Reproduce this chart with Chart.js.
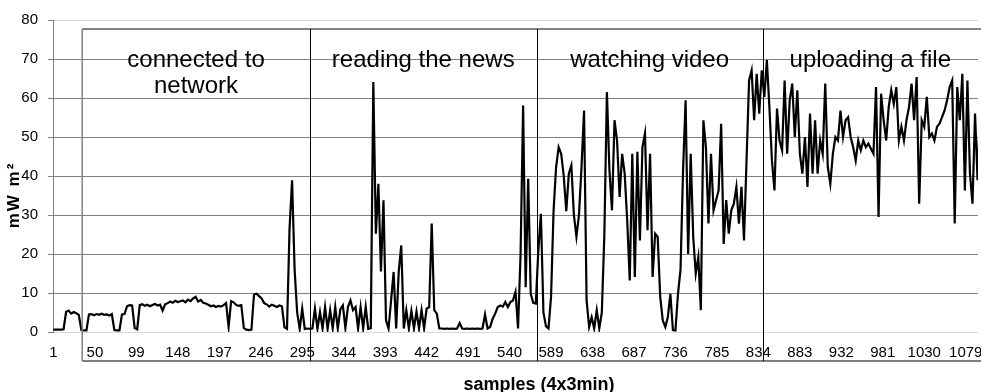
<!DOCTYPE html>
<html>
<head>
<meta charset="utf-8">
<script src="https://cdn.jsdelivr.net/npm/chart.js@4.4.0/dist/chart.umd.min.js"></script>
<style>
  html, body { margin: 0; padding: 0; background: #fff; }
</style>
</head>
<body>
<canvas id="powerChart" width="981" height="392"></canvas>
<script>
// power readings, one value every 3rd sample starting at sample 1
const firstSample = 1;
const sampleStep = 3;
const power = [
  0.6, 0.6, 0.6, 0.6, 0.7, 5.2, 5.5, 4.7, 5.1, 4.8,
  4.4, 0.5, 0.4, 0.4, 4.5, 4.6, 4.3, 4.6, 4.4, 4.7,
  4.4, 4.5, 4.2, 4.6, 0.5, 0.4, 0.4, 4.5, 4.6, 6.6,
  6.9, 6.8, 1.0, 0.7, 6.9, 7.1, 6.7, 7.0, 6.6, 6.9,
  7.2, 6.8, 7.0, 5.5, 7.1, 7.4, 7.8, 7.5, 8.0, 7.7,
  7.9, 8.1, 7.6, 8.3, 7.9, 8.6, 9.0, 7.8, 8.2, 7.5,
  7.3, 7.0, 6.6, 6.8, 6.4, 6.7, 6.5, 6.9, 7.4, 1.3,
  7.9, 7.6, 6.9, 6.7, 6.9, 1.0, 0.6, 0.5, 0.6, 9.6,
  9.8, 9.2, 8.6, 7.4, 7.1, 6.5, 7.0, 6.7, 6.4, 6.8,
  6.6, 1.2, 0.8, 26.5, 38.9, 16, 5, 0.8, 6, 0.8,
  0.9, 0.8, 0.9, 6.0, 0.8, 5.1, 0.9, 6.4, 0.8, 5.6,
  0.9, 6.4, 0.8, 5.8, 6.8, 1.0, 6.4, 8.1, 5.6, 6.4,
  0.9, 6.4, 0.9, 6.4, 0.8, 1.0, 64.1, 25.2, 38.0, 15.5,
  33.8, 3.0, 0.9, 8.1, 15.4, 0.9, 15.4, 22.2, 0.9, 5.6,
  0.9, 5.4, 0.9, 5.2, 0.9, 5.6, 0.9, 6.0, 6.4, 27.8,
  5.6, 4.7, 0.9, 0.9, 0.8, 0.9, 0.8, 0.9, 0.8, 0.9,
  2.3, 0.9, 0.8, 0.9, 0.8, 0.9, 0.8, 0.9, 0.8, 0.9,
  4.5, 0.9, 1.3, 3.4, 4.7, 6.4, 6.8, 6.5, 7.7, 6.4,
  7.7, 8.1, 10.3, 0.9, 20, 58.1, 11.5, 39.3, 9.8, 7.5,
  7.3, 21, 30.3, 5, 1.5, 0.9, 9.0, 31.2, 42.3, 47.4,
  45.7, 40, 31, 40.6, 42.7, 30, 24.4, 30, 42.3, 56.8,
  8.1, 1.3, 3.8, 0.9, 5.6, 0.9, 5, 25, 61.5, 41.5,
  31.2, 54.3, 49.1, 34.6, 45.7, 40.6, 28.6, 13.2, 45.7, 14.1,
  46.2, 23.5, 47.4, 50.9, 26.1, 45.7, 14.1, 25.2, 24.4, 9,
  3, 1.3, 3.8, 9.8, 0.5, 0.4, 9.8, 16, 41.5, 59.4,
  20, 45.7, 24.4, 15, 19.2, 5.6, 54.3, 47.4, 27.8, 45.7,
  31.2, 33.8, 36.3, 53.4, 22.6, 33.8, 25.2, 31.2, 32.9, 37.2,
  27.8, 37.2, 23.5, 44, 64.5, 67.1, 54.3, 66.2, 56, 67.1,
  60.3, 69.7, 57.7, 44, 36.3, 57.3, 49.1, 46.6, 64.5, 45.7,
  59.4, 63.7, 50, 62, 45.7, 40.6, 50, 37.2, 56, 40.6,
  54.3, 40.6, 49.1, 45.7, 63.7, 42.3, 38, 45.7, 50, 49.1,
  56.8, 50, 54.3, 55.1, 50, 47.4, 44, 49.1, 46.6, 49.1,
  47.4, 48.3, 47, 45.7, 62.8, 29.5, 61.1, 54.3, 49.1, 57.7,
  62, 58.5, 62.8, 49.1, 52.6, 49.1, 54.3, 57.7, 63.7, 54.3,
  65.4, 32.9, 54.3, 52.6, 60.3, 50, 50.9, 49.1, 52.6, 53.4,
  55.1, 56.8, 59.4, 62.8, 64.5, 27.8, 62.8, 54.3, 66.2, 36.3,
  64.5, 40.6, 32.9, 56, 38.9, 58.5
];

const totalSamples = 1093;
const xTickLabels = [1, 50, 99, 148, 197, 246, 295, 344, 393, 442, 491, 540,
  589, 638, 687, 736, 785, 834, 883, 932, 981, 1030, 1079];

// activity phases and the sample where each one starts
const phaseNames = [['connected to', 'network'], ['reading the news'], ['watching video'], ['uploading a file']];
const phaseStarts = [35, 304, 572, 839];

const FONT = "'Liberation Sans', Arial, sans-serif";

const points = power.map((v, i) => ({ x: firstSample + i * sampleStep, y: v }));

const phaseOverlay = {
  id: 'phaseOverlay',
  afterDatasetsDraw(chart) {
    const { ctx, chartArea, scales: { x } } = chart;
    const boxTop = chartArea.top + 9;
    const boxBottom = chartArea.bottom + 29;
    const boxLeft = x.getPixelForValue(phaseStarts[0]);
    const right = chart.width;

    ctx.save();
    ctx.lineWidth = 1.5;
    ctx.strokeStyle = '#595959';
    ctx.beginPath();
    ctx.moveTo(boxLeft, boxTop);
    ctx.lineTo(right, boxTop);
    ctx.stroke();

    ctx.strokeStyle = '#808080';
    ctx.beginPath();
    ctx.moveTo(boxLeft, boxTop);
    ctx.lineTo(boxLeft, boxBottom);
    ctx.stroke();
    ctx.lineWidth = 2;
    ctx.beginPath();
    ctx.moveTo(boxLeft, boxBottom);
    ctx.lineTo(right, boxBottom);
    ctx.stroke();

    ctx.lineWidth = 1;
    ctx.strokeStyle = '#000';
    phaseStarts.slice(1).forEach(s => {
      const px = Math.round(x.getPixelForValue(s)) + 0.5;
      ctx.beginPath();
      ctx.moveTo(px, boxTop);
      ctx.lineTo(px, boxBottom);
      ctx.stroke();
    });

    // phase captions
    ctx.fillStyle = '#000';
    ctx.font = '24px ' + FONT;
    ctx.textAlign = 'center';
    ctx.textBaseline = 'alphabetic';
    phaseNames.forEach((lines, i) => {
      const end = i + 1 < phaseStarts.length ? phaseStarts[i + 1] : x.max;
      const cx = x.getPixelForValue((phaseStarts[i] + end) / 2);
      lines.forEach((t, j) => ctx.fillText(t, cx, chartArea.top + 46.5 + j * 26));
    });

    // axis titles
    ctx.font = 'bold 18px ' + FONT;
    ctx.fillText('samples (4x3min)', 539, 390);
    ctx.translate(14, 195);
    ctx.rotate(-Math.PI / 2);
    ctx.textBaseline = 'middle';
    ctx.font = 'bold 17px ' + FONT;
    ctx.letterSpacing = '2px';
    ctx.fillText('mW m²', 0, 0);
    ctx.restore();
  }
};

new Chart(document.getElementById('powerChart').getContext('2d'), {
  type: 'line',
  data: {
    datasets: [{
      data: points,
      borderColor: '#000',
      borderWidth: 2.2,
      pointRadius: 0,
      tension: 0,
      fill: false
    }]
  },
  options: {
    responsive: false,
    animation: false,
    layout: { padding: { top: 20, right: 3, left: 0, bottom: 0 } },
    plugins: {
      legend: { display: false },
      tooltip: { enabled: false }
    },
    scales: {
      x: {
        type: 'linear',
        min: 0.5,
        max: totalSamples + 0.5,
        grid: { display: false },
        border: { display: false },
        afterBuildTicks: s => { s.ticks = xTickLabels.map(v => ({ value: v })); },
        afterFit: s => { s.height = 60; s.paddingLeft = 0; s.paddingRight = 0; },
        ticks: {
          autoSkip: false,
          maxRotation: 0,
          padding: 4,
          color: '#000',
          font: { family: FONT, size: 15 },
          callback: v => String(v)
        }
      },
      y: {
        min: 0,
        max: 80,
        afterFit: s => { s.width = 53; s.paddingTop = 0; s.paddingBottom = 0; },
        ticks: {
          stepSize: 10,
          padding: 10,
          color: '#000',
          font: { family: FONT, size: 15 }
        },
        grid: {
          color: c => (c.tick && (c.tick.value === 0 || c.tick.value === 80)) ? '#d9d9d9' : '#808080',
          tickColor: '#808080',
          tickLength: 5,
          lineWidth: 1
        },
        border: { color: '#808080' }
      }
    }
  },
  plugins: [phaseOverlay]
});
</script>
</body>
</html>
